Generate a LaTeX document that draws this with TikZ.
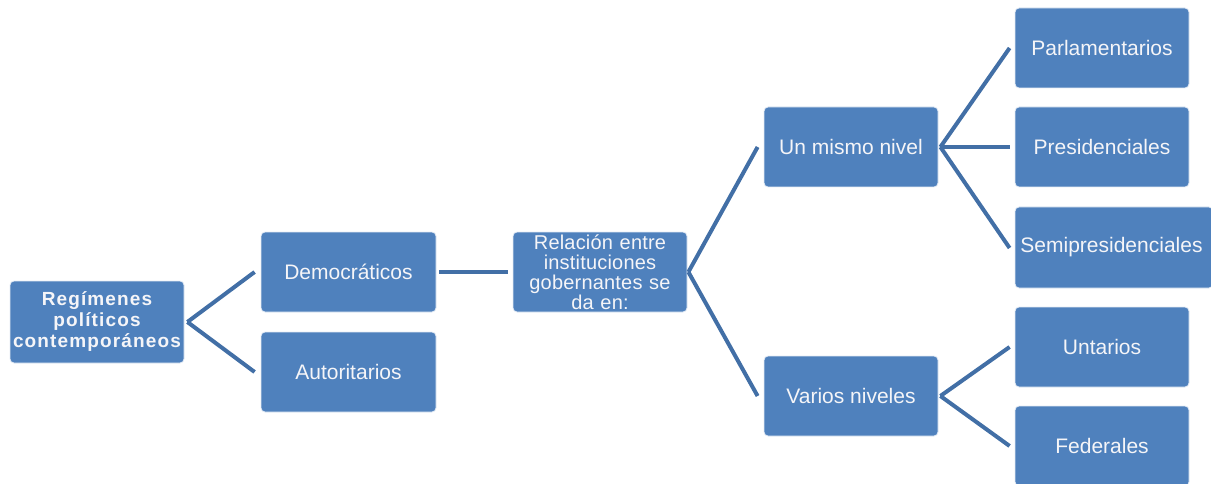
\documentclass[tikz,border=0pt]{standalone}
\usepackage{fontspec}
\setmainfont{Liberation Sans}
\definecolor{boxblue}{RGB}{79,129,189}
\definecolor{lineblue}{RGB}{66,111,166}
\definecolor{boxtext}{RGB}{245,245,248}
\begin{document}
\begin{tikzpicture}[x=1pt,y=-1pt,
  box/.style={draw=white!85!boxblue, line width=0.8pt, fill=boxblue, rounded corners=4pt,
    text=boxtext, align=center, inner sep=0pt, minimum width=174pt, minimum height=80pt,
    font=\fontsize{21}{21}\selectfont},
  link/.style={draw=lineblue, line width=4pt}]
\useasboundingbox (0,0) rectangle (1211,484);
\node[box, minimum height=82pt, font=\fontsize{19}{21}\selectfont\bfseries\addfontfeature{LetterSpace=6}] (root) at (97,322) {Regímenes\\políticos\\contemporáneos};
\node[box, minimum width=175pt] (demo) at (348.5,272) {Democráticos};
\node[box, minimum width=175pt] (auto) at (348.5,372) {Autoritarios};
\node[box, text width=168pt, font=\fontsize{20}{20}\selectfont\addfontfeature{LetterSpace=1}] (rel) at (600,272) {Relación entre\\instituciones\\gobernantes se\\da en:};
\node[box] (uno) at (851,147) {Un mismo nivel};
\node[box] (var) at (851,396) {Varios niveles};
\node[box] (parl) at (1102,48) {Parlamentarios};
\node[box] (pres) at (1102,147) {Presidenciales};
\node[box, minimum width=198pt, minimum height=81pt] (semi) at (1114,247.5) {\hspace*{-5pt}Semipresidenciales};
\node[box] (unt) at (1102,347) {Untarios};
\node[box] (fed) at (1102,446) {Federales};
\draw[link] ([xshift=3pt]root.east) -- ([xshift=-6pt]demo.west);
\draw[link] ([xshift=3pt]root.east) -- ([xshift=-6pt]auto.west);
\draw[link] ([xshift=3pt]demo.east) -- ([xshift=-5pt]rel.west);
\draw[link] ([xshift=1pt]rel.east) -- ([xshift=-6pt]uno.west);
\draw[link] ([xshift=1pt]rel.east) -- ([xshift=-6pt]var.west);
\draw[link] ([xshift=2pt]uno.east) -- ([xshift=-5pt]parl.west);
\draw[link] ([xshift=2pt]uno.east) -- ([xshift=-5pt]pres.west);
\draw[link] ([xshift=2pt]uno.east) -- ([xshift=-5pt,yshift=-0.5pt]semi.west);
\draw[link] ([xshift=2pt]var.east) -- ([xshift=-5pt]unt.west);
\draw[link] ([xshift=2pt]var.east) -- ([xshift=-5pt]fed.west);
\end{tikzpicture}
\end{document}
